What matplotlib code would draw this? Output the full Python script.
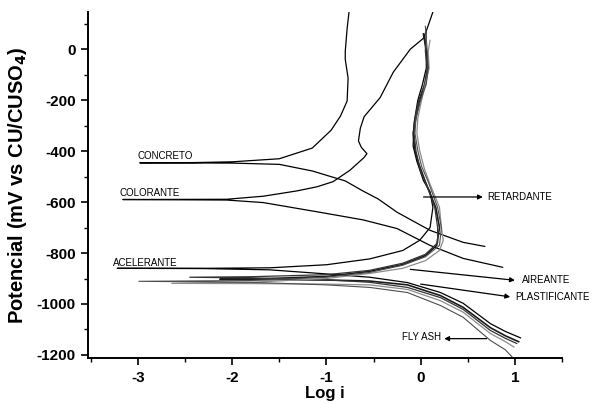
# -*- coding: utf-8 -*-
# Curvas de polarizacion (Tafel) - concreto con aditivos

import matplotlib.pyplot as plt
from matplotlib.ticker import MultipleLocator

plt.rcParams['font.family'] = ['Liberation Sans', 'DejaVu Sans']
plt.rcParams['axes.unicode_minus'] = False

# ---- data (log i, potential mV), path: cathodic end -> Ecorr -> anodic end ----
concreto_x = [0.68, 0.45, 0.10, -0.25, -0.45, -0.62, -0.80, -1.15, -1.50, -2.00, -2.98,
              -2.40, -2.00, -1.50, -1.15, -0.95, -0.85, -0.78, -0.77, -0.80, -0.80, -0.78, -0.76]
concreto_y = [-774, -758, -711, -640, -588, -555, -517, -478, -452, -447, -446,
              -445, -442, -430, -388, -318, -262, -203, -113, -40, -8, 82, 146]

colorante_x = [0.87, 0.45, 0.10, -0.25, -0.61, -1.07, -1.67, -2.06, -3.16,
               -2.06, -1.67, -1.31, -1.10, -0.93, -0.75, -0.60, -0.57, -0.63, -0.66,
               -0.64, -0.60, -0.43, -0.29, -0.11, 0.03, 0.07, 0.13]
colorante_y = [-856, -821, -770, -704, -670, -640, -602, -592, -590,
               -589, -577, -556, -540, -520, -475, -425, -410, -385, -360,
               -310, -265, -190, -90, 0, 43, 82, 146]

acelerante_x = [1.06, 0.90, 0.74, 0.45, 0.21, -0.14, -0.54, -1.00, -1.60, -2.30, -3.22,
                -2.30, -1.60, -1.00, -0.54, -0.19, -0.01, 0.10, 0.13, 0.10, 0.03,
                -0.04, -0.08, -0.07, -0.03, 0.02, 0.06, 0.06, 0.04]
acelerante_y = [-1133, -1108, -1077, -997, -955, -916, -895, -882, -866, -861, -860,
                -860, -858, -846, -823, -790, -750, -700, -621, -560, -516,
                -440, -380, -290, -200, -137, -74, -8, 50]

plastificante_x = [1.04, 0.90, 0.74, 0.45, 0.21, -0.14, -0.54, -1.00, -1.60, -2.13,
                   -1.60, -1.00, -0.54, -0.19, 0.05, 0.17, 0.20, 0.16, 0.05, -0.02,
                   -0.06, -0.08, -0.05, -0.01, 0.05, 0.08, 0.06, 0.03]
plastificante_y = [-1148, -1125, -1093, -1013, -967, -925, -910, -906, -904, -903,
                   -900, -892, -872, -845, -810, -770, -700, -621, -520, -450,
                   -399, -330, -270, -200, -137, -74, -8, 60]

retardante_x = [1.02, 0.90, 0.74, 0.45, 0.21, -0.14, -0.54, -1.00, -1.80, -2.45,
                -1.80, -1.00, -0.54, -0.19, 0.05, 0.18, 0.18, 0.15, 0.07, 0.00,
                -0.05, -0.07, -0.06, -0.02, 0.04, 0.07, 0.05, 0.06]
retardante_y = [-1155, -1135, -1104, -1021, -975, -935, -915, -905, -898, -895,
                -893, -885, -868, -840, -805, -760, -700, -621, -540, -480,
                -399, -330, -270, -200, -137, -74, -8, 70]

aireante_x = [0.99, 0.90, 0.74, 0.45, 0.21, -0.14, -0.54, -1.00, -1.80, -2.64,
              -1.80, -1.00, -0.54, -0.19, 0.05, 0.20, 0.24, 0.22, 0.20, 0.10,
              0.04, -0.01, -0.04, -0.03, 0.01, 0.05, 0.09, 0.08, 0.10]
aireante_y = [-1169, -1148, -1116, -1032, -987, -943, -925, -922, -920, -919,
              -915, -900, -880, -860, -830, -790, -750, -700, -621, -530,
              -470, -399, -330, -270, -200, -137, -74, -8, 35]

flyash_x = [0.97, 0.90, 0.74, 0.45, 0.21, -0.14, -0.54, -1.00, -1.80, -2.99,
            -1.80, -1.00, -0.54, -0.19, 0.05, 0.20, 0.22, 0.18, 0.08, 0.01,
            -0.03, -0.06, -0.05, 0.00, 0.06, 0.08, 0.07, 0.05]
flyash_y = [-1208, -1180, -1143, -1052, -1006, -955, -935, -925, -915, -911,
            -908, -895, -876, -848, -815, -770, -700, -621, -520, -460,
            -399, -330, -270, -200, -137, -74, -8, 90]

curves = [
    (concreto_x, concreto_y, 'black', 0.9),
    (colorante_x, colorante_y, 'black', 0.9),
    (acelerante_x, acelerante_y, 'black', 0.9),
    (plastificante_x, plastificante_y, '#1a1a1a', 1.2),
    (retardante_x, retardante_y, '#333333', 0.9),
    (aireante_x, aireante_y, '#8c8c8c', 0.9),
    (flyash_x, flyash_y, '#4d4d4d', 0.8),
]

# labels next to the start of each curve
left_labels = [('CONCRETO', -3.00, -418), ('COLORANTE', -3.20, -563), ('ACELERANTE', -3.27, -838)]

# arrow labels: (text, x_start, y_start, x_head, y_head, x_text, y_text, ha)
arrow_labels = [
    ('RETARDANTE', 0.03, -580, 0.66, -580, 0.71, -580, 'left'),
    ('AIREANTE', -0.11, -864, 1.00, -907, 1.08, -905, 'left'),
    ('PLASTIFICANTE', 0.00, -922, 0.95, -972, 1.00, -971, 'left'),
    ('FLY ASH', 0.70, -1136, 0.25, -1136, 0.22, -1130, 'right'),
]

fig = plt.figure(figsize=(5.97, 4.04), dpi=100)
ax = fig.add_axes([88 / 597, 1 - 358 / 404, (562 - 88) / 597, (358 - 12) / 404])

for cx_, cy_, col, lw in curves:
    ax.plot(cx_, cy_, color=col, lw=lw)

for txt, tx, ty in left_labels:
    ax.text(tx, ty, txt, fontsize=7, ha='left', va='center')

for txt, x0, y0, x1, y1, tx, ty, ha in arrow_labels:
    ax.annotate('', xy=(x1, y1), xytext=(x0, y0),
                arrowprops=dict(arrowstyle='-|>', color='black', lw=0.9,
                                mutation_scale=7, shrinkA=0, shrinkB=0))
    ax.text(tx, ty, txt, fontsize=7, ha=ha, va='center')

ax.set_xlim(-3.53, 1.5)
ax.set_ylim(-1212, 146)

# only left and bottom axis
ax.spines['top'].set_visible(False)
ax.spines['right'].set_visible(False)
ax.spines['left'].set_linewidth(1.4)
ax.spines['bottom'].set_linewidth(1.4)

ax.xaxis.set_major_locator(MultipleLocator(1))
ax.xaxis.set_minor_locator(MultipleLocator(0.5))
ax.yaxis.set_major_locator(MultipleLocator(200))
ax.yaxis.set_minor_locator(MultipleLocator(100))
ax.tick_params(which='major', direction='out', length=5, width=1.2, labelsize=11, pad=4)
ax.tick_params(which='minor', direction='out', length=3, width=1.0)
for lab in ax.get_xticklabels() + ax.get_yticklabels():
    lab.set_fontweight('bold')

ax.set_xlabel('Log i', fontsize=12, fontweight='bold', labelpad=1)
ax.set_ylabel('Potencial (mV vs CU/CUSO$_\\mathbf{4}$)', fontsize=14.5, fontweight='bold', labelpad=5)

plt.savefig('out.png', dpi=100)
